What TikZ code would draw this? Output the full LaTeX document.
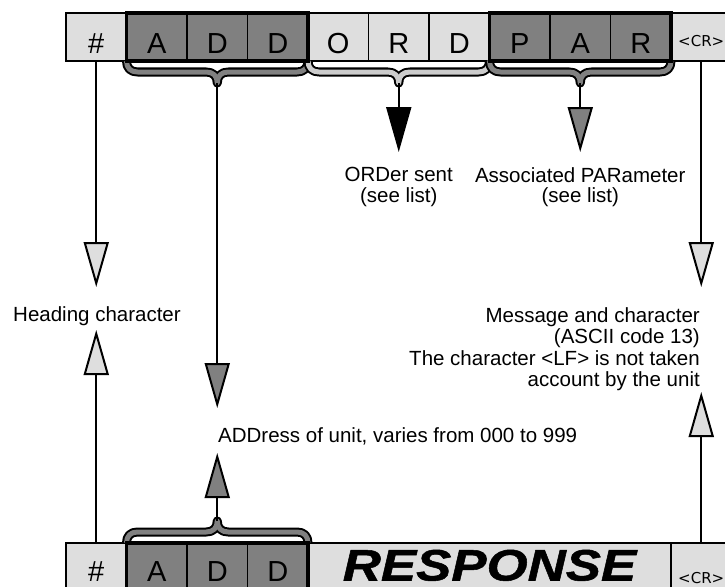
\documentclass[tikz,border=0pt]{standalone}
\usepackage{fontspec}
\setmainfont{Liberation Sans}
\newfontfamily\crfont{DejaVu Sans}
\newfontfamily\respfont{Liberation Sans}[FakeStretch=1.2, FakeBold=1.2]
\usetikzlibrary{arrows.meta,positioning,calc}
\definecolor{lightcell}{gray}{0.87}
\definecolor{darkcell}{gray}{0.5}
\definecolor{midband}{gray}{0.8}
\tikzset{
  cell/.style={draw, line width=1.7pt, minimum width=60.5pt, minimum height=48pt, inner sep=0pt, outer sep=0pt, text height=32pt, text depth=0pt, font=\fontsize{29}{30}\selectfont},
  lcell/.style={cell, fill=lightcell}, dcell/.style={cell, fill=darkcell},
  crcell/.style={lcell, font=\crfont\fontsize{15}{16}\selectfont, text height=19pt},
  group/.style={draw, line width=3.3pt},
  band/.style={draw=black, double=#1, line width=2pt, double distance=5pt, line join=round},
  flow/.style={line width=2pt},
  ltip/.style={flow, -{Triangle[length=45pt, width=25pt, fill=lightcell]}},
  dtip/.style={flow, -{Triangle[length=45pt, width=25pt, fill=darkcell]}},
  btip/.style={flow, -{Triangle[length=45pt, width=25pt, fill=black]}},
  lbl/.style={inner sep=0pt, font=\fontsize{20.5}{19}\selectfont},
}
% brace between two corners: #3 band colour, #4 = 1 down, -1 up
\newcommand\cellbrace[4]{%
  \draw[band=#3] (#1) .. controls ($(#1)+(0,#4*7)$) and ($(#1)+(4,#4*11)$) .. ($(#1)+(11,#4*11)$)
    -- ($(#1)!0.5!(#2)+(-11,#4*11)$) .. controls ($(#1)!0.5!(#2)+(-4,#4*11)$) and ($(#1)!0.5!(#2)+(0,#4*15)$) .. ($(#1)!0.5!(#2)+(0,#4*22)$)
    .. controls ($(#1)!0.5!(#2)+(0,#4*15)$) and ($(#1)!0.5!(#2)+(4,#4*11)$) .. ($(#1)!0.5!(#2)+(11,#4*11)$)
    -- ($(#2)+(-11,#4*11)$) .. controls ($(#2)+(-4,#4*11)$) and ($(#2)+(0,#4*7)$) .. (#2);}
\begin{document}
\begin{tikzpicture}[x=1pt, y=-1pt]
  \useasboundingbox (0,0) rectangle (725,586);
  \clip (0,0) rectangle (725,586);
  % message sent
  \node[lcell] (hash) at (96.25,37) {\#};
  \node[dcell, right=0pt of hash] (add1) {A};
  \node[dcell, right=0pt of add1] (add2) {D};
  \node[dcell, right=0pt of add2] (add3) {D};
  \node[lcell, right=0pt of add3] (ord1) {O};
  \node[lcell, right=0pt of ord1] (ord2) {R};
  \node[lcell, right=0pt of ord2] (ord3) {D};
  \node[dcell, right=0pt of ord3] (par1) {P};
  \node[dcell, right=0pt of par1] (par2) {A};
  \node[dcell, right=0pt of par2] (par3) {R};
  \node[crcell, right=0pt of par3] (cr) {<CR>};
  % response
  \node[lcell, text height=28pt] (bhash) at (96.25,567) {\#};
  \node[dcell, text height=28pt, right=0pt of bhash] (badd1) {A};
  \node[dcell, text height=28pt, right=0pt of badd1] (badd2) {D};
  \node[dcell, text height=28pt, right=0pt of badd2] (badd3) {D};
  \node[lcell, right=0pt of badd3, minimum width=363pt, text height=27pt,
        font=\respfont\bfseries\itshape\fontsize{44}{45}\selectfont] (resp) {RESPONSE};
  \node[crcell, right=0pt of resp, text height=33pt] (bcr) {<CR>};
  % braces
  \cellbrace{add1.south west}{add3.south east}{darkcell}{1}
  \cellbrace{ord1.south west}{ord3.south east}{midband}{1}
  \cellbrace{par1.south west}{par3.south east}{darkcell}{1}
  \cellbrace{badd1.north west}{badd3.north east}{darkcell}{-1}
  \draw[group] (add1.north west) rectangle (add3.south east);
  \draw[group] (par1.north west) rectangle (par3.south east);
  \draw[group] (badd1.north west) rectangle (badd3.south east);
  % labels
  \node[lbl, anchor=north] (ordtext) at (398.75,167) {\begin{tabular}{@{}c@{}}ORDer sent\\(see list)\end{tabular}};
  \node[lbl, anchor=north] (partext) at (580.25,167) {\begin{tabular}{@{}c@{}}Associated PARameter\\(see list)\end{tabular}};
  \node[lbl, anchor=base] (heading) at (97,321) {Heading character};
  \node[lbl, anchor=north east, font=\fontsize{20.5}{21.5}\selectfont] (msgtext) at (700,307)
    {\begin{tabular}{@{}r@{}}Message and character\\(ASCII code 13)\\The character <LF> is not taken\\account by the unit\end{tabular}};
  \node[lbl, anchor=base west] (addtext) at (218,442) {ADDress of unit, varies from 000 to 999};
  % arrow ends
  \coordinate (addtop) at ([yshift=-22pt]add2.south);
  \coordinate (ordtop) at ([yshift=-22pt]ord2.south);
  \coordinate (partop) at ([yshift=-22pt]par2.south);
  \coordinate (baddbot) at ([yshift=22pt]badd2.north);
  \coordinate (hashend) at (hash.south |- 0,287);
  \coordinate (crend) at (cr.south |- 0,287);
  \coordinate (addend) at (add2.south |- 0,408);
  \coordinate (ordend) at (ord2.south |- 0,152);
  \coordinate (parend) at (par2.south |- 0,152);
  \coordinate (bhashend) at (bhash.north |- 0,330);
  \coordinate (baddend) at (badd2.north |- 0,453);
  \coordinate (bcrend) at (bcr.north |- 0,392);
  % connectors
  \draw[ltip] (hash) -- (hashend);
  \draw[ltip] (cr) -- (crend);
  \draw[dtip] (addtop) -- (addend);
  \draw[btip] (ordtop) -- (ordend);
  \draw[dtip] (partop) -- (parend);
  \draw[ltip] (bhash) -- (bhashend);
  \draw[dtip] (baddbot) -- (baddend);
  \draw[ltip] (bcr) -- (bcrend);
\end{tikzpicture}
\end{document}
